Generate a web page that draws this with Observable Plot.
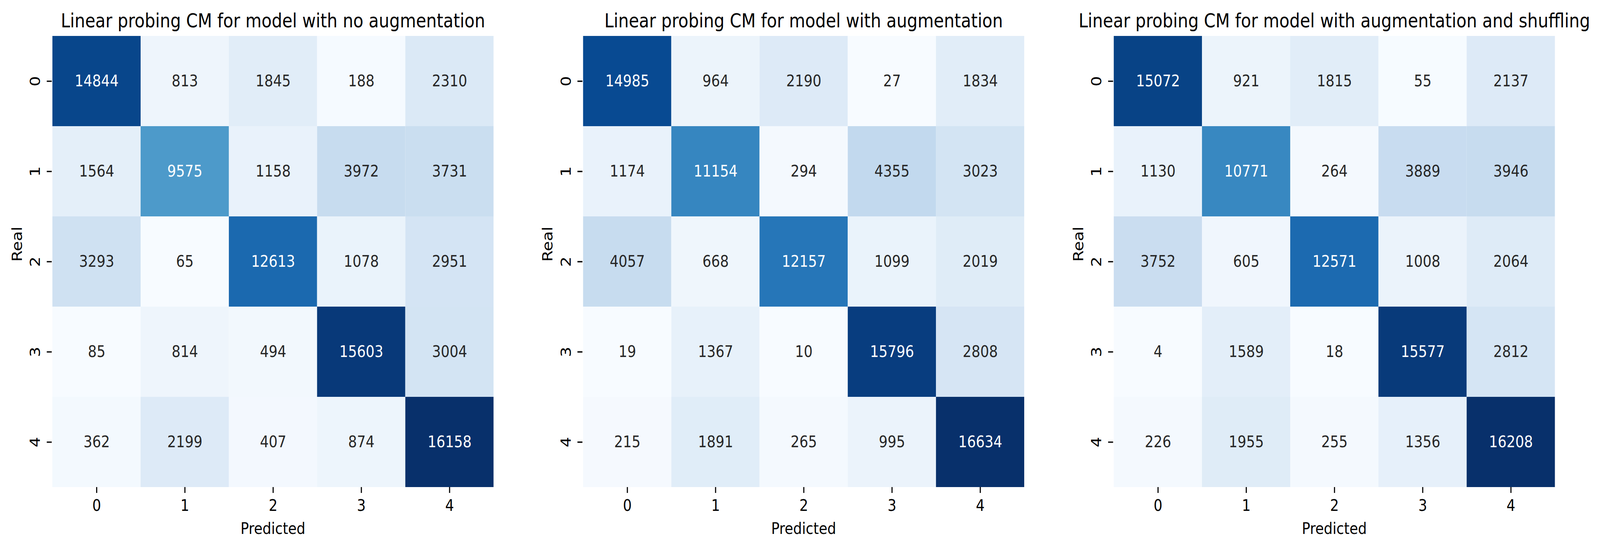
<!DOCTYPE html>
<html>
<head>
<meta charset="utf-8">
<script src="https://cdn.jsdelivr.net/npm/d3@7"></script>
<script src="https://cdn.jsdelivr.net/npm/@observablehq/plot@0.6"></script>
<style>
  html, body { margin: 0; padding: 0; background: #fff; overflow: hidden; }
  #row { display: flex; flex-direction: row; width: 4824px; height: 1403px; transform-origin: 0 0; }
  #row svg { display: block; flex: none; max-width: none; }
</style>
</head>
<body>
<div id="row"></div>
<script>
// ---- data ----
const classes = ["0", "1", "2", "3", "4"];
const titles = [
  "Linear probing CM for model with no augmentation",
  "Linear probing CM for model with augmentation",
  "Linear probing CM for model with augmentation and shuffling"
];
const xLabel = "Predicted";
const yLabel = "Real";
const cmNoAug = [
  [14844, 813, 1845, 188, 2310],
  [1564, 9575, 1158, 3972, 3731],
  [3293, 65, 12613, 1078, 2951],
  [85, 814, 494, 15603, 3004],
  [362, 2199, 407, 874, 16158]
];
const cmAug = [
  [14985, 964, 2190, 27, 1834],
  [1174, 11154, 294, 4355, 3023],
  [4057, 668, 12157, 1099, 2019],
  [19, 1367, 10, 15796, 2808],
  [215, 1891, 265, 995, 16634]
];
const cmAugShuffle = [
  [15072, 921, 1815, 55, 2137],
  [1130, 10771, 264, 3889, 3946],
  [3752, 605, 12571, 1008, 2064],
  [4, 1589, 18, 15577, 2812],
  [226, 1955, 255, 1356, 16208]
];
const blues = ["#f7fbff","#deebf7","#c6dbef","#9ecae1","#6baed6","#4292c6","#2171b5","#08519c","#08306b"];

// ---- helpers ----
const bluesInterp = d3.piecewise(d3.interpolateRgb, blues);
function lum(c) {
  const r = d3.rgb(c);
  const f = v => { v /= 255; return v <= 0.03928 ? v / 12.92 : Math.pow((v + 0.055) / 1.055, 2.4); };
  return 0.2126 * f(r.r) + 0.7152 * f(r.g) + 0.0722 * f(r.b);
}

const FONT = "DejaVu Sans";
const FS = 41.67;

function panel(matrix, title) {
  const cells = [];
  matrix.forEach((row, i) => row.forEach((v, j) => cells.push({real: classes[i], pred: classes[j], value: v})));
  const vmin = d3.min(cells, d => d.value), vmax = d3.max(cells, d => d.value);
  const textColor = d => lum(bluesInterp((d.value - vmin) / (vmax - vmin))) > 0.408 ? "#262626" : "white";
  return Plot.plot({
    width: 1600,
    height: 1403,
    marginLeft: 156,
    marginRight: 111,
    marginTop: 92,
    marginBottom: 156,
    style: {fontFamily: FONT, background: "white", color: "black", maxWidth: "none"},
    x: {domain: classes, padding: 0, label: null},
    y: {domain: classes, padding: 0, label: null},
    color: {type: "linear", domain: [vmin, vmax], interpolate: () => bluesInterp},
    marks: [
      Plot.cell(cells, {x: "pred", y: "real", fill: "value", inset: 0}),
      Plot.text(cells, {x: "pred", y: "real", text: d => String(d.value), fill: textColor, fontSize: FS}),
      Plot.axisX({anchor: "bottom", tickSize: 15, tickPadding: 16, fontSize: FS, strokeWidth: 3.3, label: null}),
      Plot.axisY({anchor: "left", tickSize: 15, tickPadding: 21, tickRotate: -90, fontSize: FS, strokeWidth: 3.3, label: null}),
      Plot.text([title], {frameAnchor: "top", dy: -23, lineAnchor: "bottom", fontSize: 50, fill: "black"}),
      Plot.text([xLabel], {frameAnchor: "bottom", dy: 119, lineAnchor: "bottom", fontSize: FS, fill: "black"}),
      Plot.text([yLabel], {frameAnchor: "left", dx: -91, rotate: -90, lineAnchor: "bottom", fontSize: FS, fill: "black"})
    ]
  });
}

const row = document.getElementById("row");
[cmNoAug, cmAug, cmAugShuffle].forEach((m, k) => row.appendChild(panel(m, titles[k])));
// the viewport may be narrower than the 4824px design width: fit horizontally
const sx = Math.min(1, window.innerWidth / 4824);
row.style.transform = "scaleX(" + sx + ")";
</script>
</body>
</html>
